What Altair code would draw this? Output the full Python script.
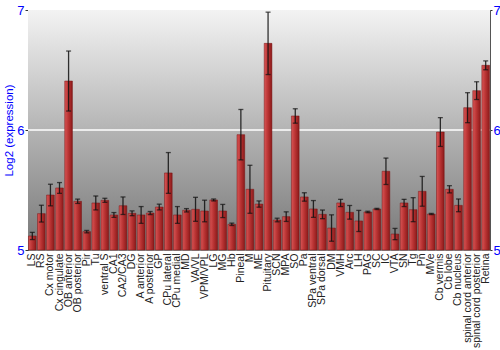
import altair as alt
import pandas as pd

regions = ["LS", "RS", "Cx motor", "Cx cingulate", "OB anterior", "OB posterior", "Pir", "Tu",
           "ventral S", "CA1", "CA2/CA3", "DG", "A anterior", "A posterior", "GP", "CPu lateral",
           "CPu medial", "MD", "VA/VL", "VPM/VPL", "LG", "MG", "Hb", "Pineal", "M", "ME",
           "Pituitary", "SCN", "MPA", "SO", "Pa", "SPa ventral", "SPa dorsal", "DM", "VMH", "Arc",
           "LH", "PAG", "SC", "IC", "VTA", "SN", "Tg", "Pn", "MVe", "Cb vermis", "Cb lobe",
           "Cb nucleus", "spinal cord anterior", "spinal cord posterior", "Retina"]
values = [5.117, 5.303, 5.458, 5.517, 6.408, 5.406, 5.153, 5.392,
          5.414, 5.292, 5.369, 5.306, 5.292, 5.308, 5.358, 5.642,
          5.292, 5.331, 5.339, 5.325, 5.417, 5.325, 5.214, 5.961, 5.506, 5.383,
          6.722, 5.250, 5.278, 6.117, 5.442, 5.342, 5.297, 5.183, 5.392, 5.314,
          5.242, 5.317, 5.342, 5.656, 5.133, 5.392, 5.336, 5.489, 5.300, 5.983, 5.506,
          5.372, 6.186, 6.328, 6.539]
errors = [0.03, 0.07, 0.09, 0.045, 0.25, 0.018, 0.01, 0.058,
          0.017, 0.02, 0.073, 0.02, 0.07, 0.013, 0.024, 0.17,
          0.07, 0.014, 0.10, 0.09, 0.008, 0.055, 0.01, 0.21, 0.20, 0.026,
          0.26, 0.015, 0.04, 0.06, 0.035, 0.07, 0.036, 0.11, 0.03, 0.057,
          0.088, 0.006, 0.005, 0.11, 0.047, 0.03, 0.10, 0.124, 0.005, 0.12, 0.03,
          0.053, 0.125, 0.074, 0.037]
y_ticks = [5, 6, 7]
grid_value = 6

df = pd.DataFrame({"region": regions, "value": values, "err": errors})

blue = "#0000ff"
yscale = alt.Scale(domain=[5, 7], zero=False, nice=False)
xenc = alt.X("region:N", sort=regions, title=None,
             scale=alt.Scale(paddingInner=0.15, paddingOuter=0.05),
             axis=alt.Axis(labelAngle=270, labelAlign="right", labelBaseline="middle",
                           labelFont="Liberation Sans", labelFontSize=10.5, labelColor="#222",
                           ticks=False, domain=False, labelPadding=3))

bg = alt.Chart(pd.DataFrame({"a": [0]})).mark_rect(
    color=alt.Gradient(gradient="linear",
                       stops=[alt.GradientStop(color="#f3f3f3", offset=0),
                              alt.GradientStop(color="#b4b4b4", offset=0.5),
                              alt.GradientStop(color="#777777", offset=1)],
                       x1=0, x2=0, y1=0, y2=1)
).encode(x=alt.value(0), x2=alt.value("width"), y=alt.value(0), y2=alt.value("height"))

gridline = alt.Chart(pd.DataFrame({"a": [0]})).mark_rule(color="white", strokeWidth=1.5).encode(
    x=alt.value(0), x2=alt.value("width"),
    y=alt.Y(datum=grid_value, scale=yscale, axis=None))

left_axis = alt.Axis(values=y_ticks, format=".0f", orient="left", title="Log2 (expression)",
                     titleColor=blue, titleFont="Liberation Sans", titleFontSize=11.5,
                     titleFontWeight="normal", labelColor=blue, labelFontSize=13,
                     labelFont="Liberation Sans", grid=False, domainColor="#333",
                     labelFlush=False, labelOverlap=False, labelBound=False,
                     tickColor="#333", tickSize=3, labelPadding=1, titlePadding=2)
right_axis = alt.Axis(values=y_ticks, format=".0f", orient="right", title=None,
                      labelColor=blue, labelFontSize=13, labelFont="Liberation Sans",
                      labelFlush=False, labelOverlap=False, labelBound=False,
                      grid=False, domainColor="#555", tickColor="#333", tickSize=2,
                      labelPadding=1)

bars = alt.Chart(df).mark_bar(
    color=alt.Gradient(gradient="linear",
                       stops=[alt.GradientStop(color="#d85555", offset=0),
                              alt.GradientStop(color="#b83232", offset=0.5),
                              alt.GradientStop(color="#8a1a1a", offset=1)],
                       x1=0, x2=1, y1=0, y2=0),
    stroke="#7a1515", strokeWidth=0.5
).encode(
    x=xenc,
    y=alt.Y("value:Q", scale=yscale, axis=left_axis),
    y2=alt.datum(5),
)

err = alt.Chart(df).transform_calculate(
    lo="datum.value - datum.err", hi="datum.value + datum.err")

rules = err.mark_rule(color="#111", strokeWidth=1.3, opacity=0.85).encode(
    x=alt.X("region:N", sort=regions),
    y=alt.Y("lo:Q", scale=yscale, axis=right_axis),
    y2="hi:Q")
cap_lo = err.mark_tick(color="#111", width=5, thickness=1.3).encode(
    x=alt.X("region:N", sort=regions), y=alt.Y("lo:Q", scale=yscale, axis=None))
cap_hi = err.mark_tick(color="#111", width=5, thickness=1.3).encode(
    x=alt.X("region:N", sort=regions), y=alt.Y("hi:Q", scale=yscale, axis=None))

chart = alt.layer(bg, gridline, bars, rules, cap_lo, cap_hi).resolve_axis(
    y="independent"
).properties(
    width=462, height=240,
    autosize=alt.AutoSizeParams(type="none"),
    padding={"left": 28, "top": 10, "right": 10, "bottom": 100},
).configure_view(stroke="#888", strokeWidth=1)

chart.save("out.html", embed_options={"renderer": "svg", "actions": False})
